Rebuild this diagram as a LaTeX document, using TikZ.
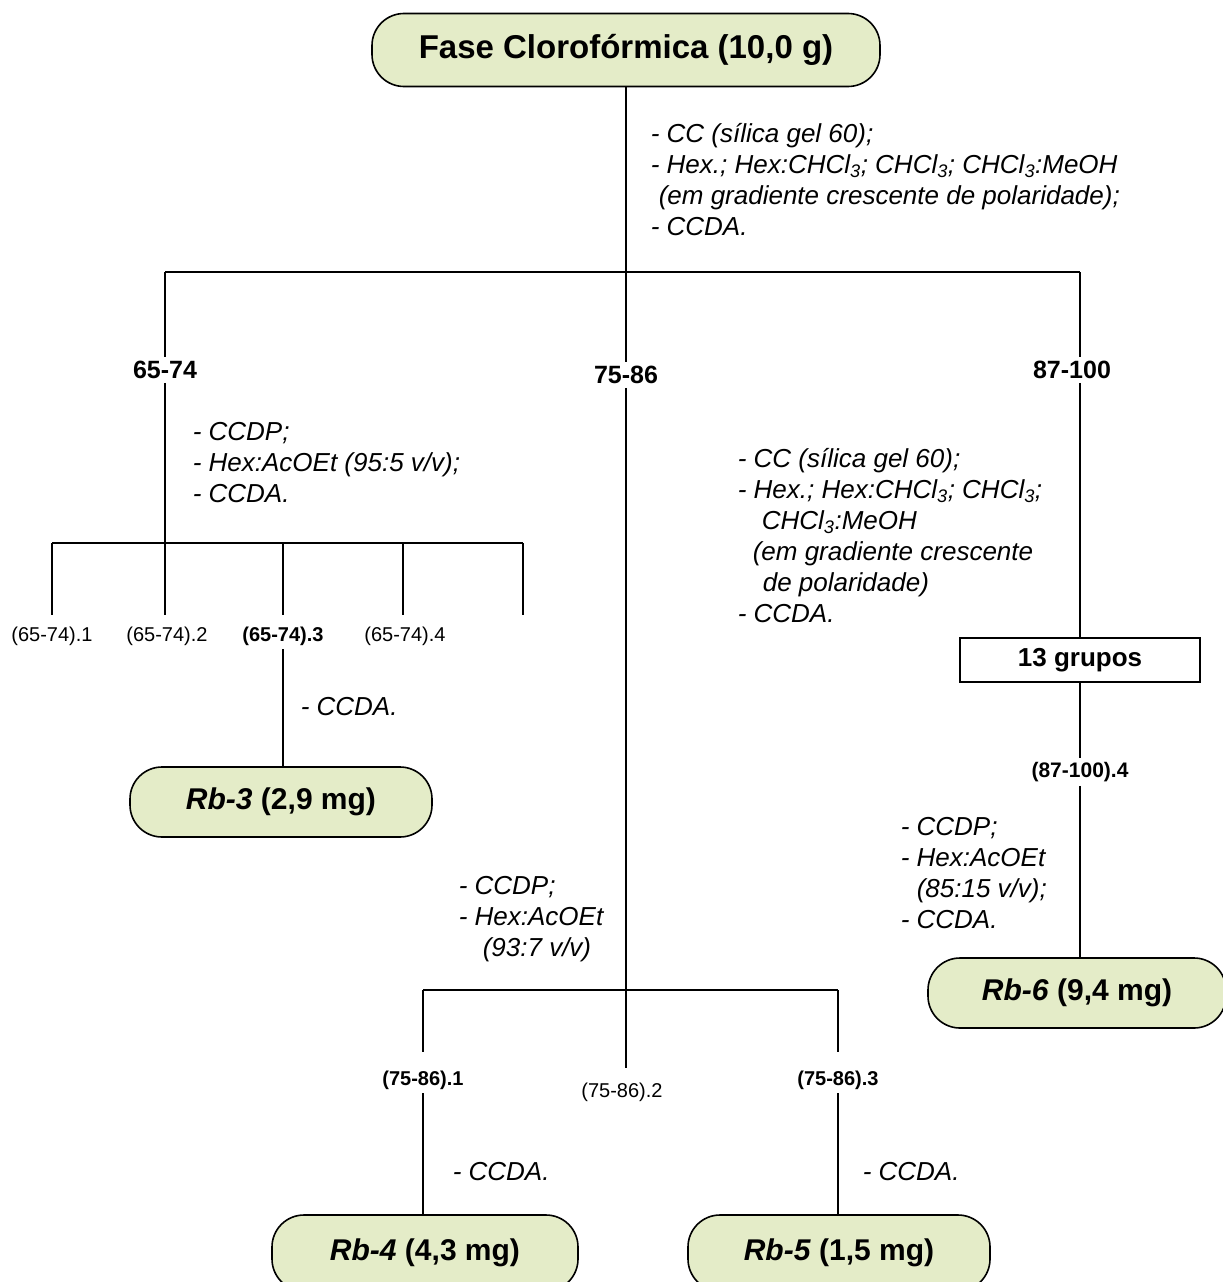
\documentclass[tikz,border=0pt]{standalone}
\usepackage{fontspec}
\setmainfont{Liberation Sans}
\usetikzlibrary{positioning}
\definecolor{pill-green}{RGB}{228,236,200}

\begin{document}
\begin{tikzpicture}[
    x=1pt, y=-1pt,
    every path/.style={line width=1.6},
    pill/.style={rectangle, rounded corners=32, draw=black, fill=pill-green,
        minimum height=70, font=\bfseries\fontsize{30}{36}\selectfont},
    group/.style={rectangle, draw=black, font=\bfseries\fontsize{26}{31}\selectfont},
    frac/.style={font=\bfseries\fontsize{25}{30}\selectfont},
    sub/.style={font=\fontsize{20}{24}\selectfont},
    subb/.style={font=\bfseries\fontsize{20}{24}\selectfont},
    note/.style={anchor=base west, align=left, inner sep=0,
        font=\itshape\fontsize{26}{31}\selectfont},
    ]

    \useasboundingbox (0,0) rectangle (1223,1282);

    \node (fase) [pill, minimum width=508, minimum height=73,
        font=\bfseries\fontsize{33}{40}\selectfont] at (626,50)
        {Fase Clorofórmica (10,0 g)};

    \coordinate (bar-top) at (626,272);
    \coordinate (bar-65) at (165,272);
    \coordinate (bar-87) at (1080,272);

    \node (f65) [frac] at (165,370) {65-74};
    \node (f75) [frac] at (626,375) {75-86};
    \node (f87) [frac] at (1072,370) {87-100};

    \draw (fase) -- (bar-top);
    \draw (bar-65) -- (bar-87);
    \draw (bar-65) -- (bar-65 |- f65.north);
    \draw (bar-top) -- (f75);
    \draw (bar-87) -- (bar-87 |- f87.north);

    \node (cc-top) [note] at (650,235) {- CC (sílica gel 60);\\
        - Hex.; Hex:CHCl\textsubscript{3}; CHCl\textsubscript{3}; CHCl\textsubscript{3}:MeOH\\
        \hspace*{8pt}(em gradiente crescente de polaridade);\\
        - CCDA.};

    % 65-74
    \foreach \i/\x in {1/52, 2/165, 3/283, 4/403, 5/523} {
        \coordinate (stub-65-\i) at (\x,543);
    }
    \draw (f65) -- (stub-65-2);
    \draw (stub-65-1) -- (stub-65-5);
    \foreach \i in {1, ..., 5} {
        \draw (stub-65-\i) -- ++(0,72);
    }
    \node (ccdp-65) [note] at (192,502) {- CCDP;\\- Hex:AcOEt (95:5 v/v);\\- CCDA.};

    \node (s65-1) [sub] at (52,636) {(65-74).1};
    \node (s65-2) [sub] at (167,636) {(65-74).2};
    \node (s65-3) [subb] at (283,636) {(65-74).3};
    \node (s65-4) [sub] at (405,636) {(65-74).4};

    \node (ccda-65) [note] at (300,715) {- CCDA.};
    \node (rb3) [pill, minimum width=302] at (281,802) {\textit{Rb-3} (2,9 mg)};
    \draw (s65-3) -- (s65-3 |- rb3.north);

    % 75-86
    \coordinate (split-75) at (626,990);
    \coordinate (stub-75-1) at (423,990);
    \coordinate (stub-75-3) at (838,990);
    \draw (f75) -- (split-75);
    \draw (stub-75-1) -- (stub-75-3);
    \draw (stub-75-1) -- ++(0,62);
    \draw (split-75) -- ++(0,78);
    \draw (stub-75-3) -- ++(0,62);
    \node (ccdp-75) [note] at (458,956) {- CCDP;\\- Hex:AcOEt\\\hspace*{24pt}(93:7 v/v)};

    \node (s75-1) [subb] at (423,1080) {(75-86).1};
    \node (s75-2) [sub] at (622,1092) {(75-86).2};
    \node (s75-3) [subb] at (838,1080) {(75-86).3};

    \node (ccda-75-1) [note] at (452,1180) {- CCDA.};
    \node (ccda-75-3) [note] at (862,1180) {- CCDA.};
    \node (rb4) [pill, minimum width=306, minimum height=76] at (425,1253)
        {\textit{Rb-4} (4,3 mg)};
    \node (rb5) [pill, minimum width=302, minimum height=76] at (839,1253)
        {\textit{Rb-5} (1,5 mg)};
    \draw (s75-1) -- (s75-1 |- rb4.north);
    \draw (s75-3) -- (s75-3 |- rb5.north);

    % 87-100
    \node (cc-87) [note] at (737,622) {- CC (sílica gel 60);\\
        - Hex.; Hex:CHCl\textsubscript{3}; CHCl\textsubscript{3};\\
        \hspace*{24pt}CHCl\textsubscript{3}:MeOH\\
        \hspace*{15pt}(em gradiente crescente\\
        \hspace*{25pt}de polaridade)\\
        - CCDA.};
    \node (grupos) [group, minimum width=240, minimum height=44] at (1080,660) {13 grupos};
    \draw (f87.south -| bar-87) -- (grupos);
    \node (s87-4) [subb, font=\bfseries\fontsize{21}{25}\selectfont] at (1080,772) {(87-100).4};
    \draw (grupos) -- (s87-4);
    \node (ccdp-87) [note] at (900,928) {- CCDP;\\- Hex:AcOEt\\\hspace*{16pt}(85:15 v/v);\\- CCDA.};
    \node (rb6) [pill, minimum width=298] at (1077,993) {\textit{Rb-6} (9,4 mg)};
    \draw (s87-4) -- (s87-4 |- rb6.north);
\end{tikzpicture}
\end{document}
